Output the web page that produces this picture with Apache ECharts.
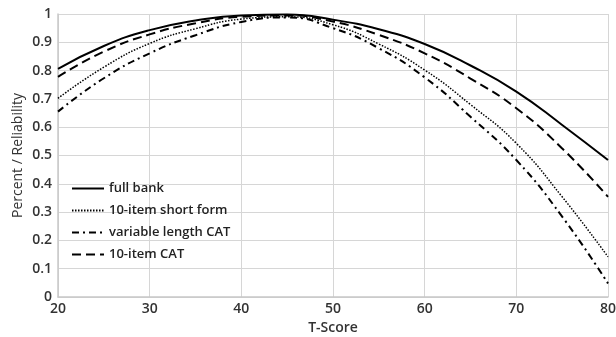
<!DOCTYPE html>
<html><head><meta charset="utf-8">
<script src="https://cdn.jsdelivr.net/npm/echarts@6/dist/echarts.min.js"></script>
<style>html,body{margin:0;padding:0;background:#fff}#c{width:616px;height:337px}</style>
</head><body><div id="c"></div>
<script>
const tScores = [20,25,30,35,40,45,50,55,60,65,70,75,80];
const fullBank = [0.806,0.887,0.943,0.977,0.995,0.998,0.980,0.946,0.894,0.818,0.726,0.608,0.484];
const shortForm10 = [0.702,0.812,0.896,0.948,0.982,0.990,0.962,0.894,0.802,0.680,0.543,0.354,0.142];
const varCAT = [0.655,0.773,0.861,0.925,0.972,0.988,0.950,0.879,0.776,0.637,0.484,0.284,0.048];
const cat10 = [0.778,0.867,0.928,0.967,0.990,0.995,0.973,0.926,0.861,0.772,0.667,0.525,0.354];
const names = ['full bank','10-item short form','variable length CAT','10-item CAT'];
const yTicks = [0,0.1,0.2,0.3,0.4,0.5,0.6,0.7,0.8,0.9,1];

const pair = arr => tScores.map((t,i)=>[t,arr[i]]);
const chart = echarts.init(document.getElementById('c'));
const mk = (name, arr, type, width) => ({
  name, type:'line', data: pair(arr), smooth: true, symbol:'none',
  lineStyle:{color:'#000', width, type}, itemStyle:{color:'#000'}
});
chart.setOption({
  animation:false,
  grid:{left:58,right:8,top:14,bottom:40,outerBoundsMode:'none',containLabel:false},
  legend:{
    orient:'vertical', left:66, top:177, itemGap:9, itemWidth:32, itemHeight:13,
    data:names,
    itemStyle:{opacity:0},
    textStyle:{fontFamily:'Open Sans',fontSize:13,fontWeight:600,color:'#222'}
  },
  xAxis:{
    type:'value', min:20, max:80, interval:10,
    name:'T-Score', nameLocation:'middle', nameGap:24,
    nameTextStyle:{fontFamily:'Open Sans',fontSize:14,fontWeight:600,color:'#333'},
    axisLine:{show:true,lineStyle:{color:'#c8c8c8',width:1.5}},
    axisTick:{show:false},
    axisLabel:{fontFamily:'Open Sans',fontSize:14,fontWeight:600,color:'#333',margin:5},
    splitLine:{show:true,lineStyle:{color:'#d6d6d6'}}
  },
  yAxis:{
    type:'value', min:0, max:1, interval:0.1,
    name:'Percent / Reliability', nameLocation:'middle', nameGap:33, nameMoveOverlap:false,
    nameTextStyle:{fontFamily:'Open Sans',fontSize:14,color:'#333'},
    axisLine:{show:true,lineStyle:{color:'#c8c8c8',width:1.5}},
    axisTick:{show:false},
    axisLabel:{fontFamily:'Open Sans',fontSize:14,fontWeight:600,color:'#333',margin:6,
      formatter:v=>{const r=Math.round(v*10)/10; return yTicks.includes(r)?String(r):'';}},
    splitLine:{show:true,lineStyle:{color:'#d6d6d6'}}
  },
  series:[
    mk(names[0], fullBank, 'solid', 2),
    mk(names[1], shortForm10, [1.5,1.5], 1.5),
    mk(names[2], varCAT, [7,4,2,4], 2),
    mk(names[3], cat10, [9,5], 2)
  ]
});
</script></body></html>
